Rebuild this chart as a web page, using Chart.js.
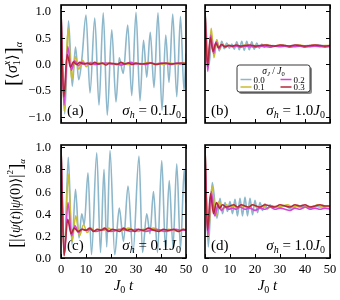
<!DOCTYPE html>
<html><head><meta charset="utf-8">
<script src="https://cdn.jsdelivr.net/npm/chart.js@4.4.1/dist/chart.umd.min.js"></script>
<style>
html,body{margin:0;padding:0;background:#fff;}
#wrap{position:relative;width:340px;height:300px;overflow:hidden;}
#wrap canvas{position:absolute;left:0;top:0;}
</style></head>
<body><div id="wrap">
<canvas id="ca" width="340" height="300"></canvas>
<canvas id="cb" width="340" height="300"></canvas>
<canvas id="cc" width="340" height="300"></canvas>
<canvas id="cd" width="340" height="300"></canvas>
</div>
<script>
// ---------- data ----------
const xTicks = [0,10,20,30,40,50];
const xTickLabels = ['0','10','20','30','40','50'];
const magTicks = [-1,-0.5,0,0.5,1];
const magTickLabels = ['\u22121.0','\u22120.5','0.0','0.5','1.0'];
const retTicks = [0,0.2,0.4,0.6,0.8,1.0];
const retTickLabels = ['0.0','0.2','0.4','0.6','0.8','1.0'];
const sigmaJ = ['0.0','0.1','0.2','0.3'];
const sigmaH = ['0.1','1.0'];

// panel (a): magnetization, sigma_h = 0.1
const tA0 = [0,1.5,3.0,4.5,5.8,7.1,8.4,10.0,11.6,13.5,15.2,16.9,18.5,20.3,22.0,23.3,24.9,26.7,28.3,30.0,31.6,33.0,34.3,35.7,37.2,38.8,40.4,41.9,43.2,44.7,46.3,47.8,49.2,50];
const vA0 = [1.0,-0.95,0.82,-0.42,0.32,-0.30,0.12,0.93,-0.55,0.87,-0.78,0.97,-0.97,0.65,-0.72,0.12,-0.18,0.74,-0.60,0.98,-0.70,0.45,-0.25,0.60,-0.45,0.97,-0.88,0.55,-0.35,0.95,-0.62,0.90,-0.50,0.20];
const tA1 = [0,1.3,2.8,4.3,5.7,7.1,8.6,10.1,11.6,13,15,17,19,21,23,25,27,29,31,33,35,37,39,41,43,45,47,49,50];
const vA1 = [1.0,-0.90,0.68,-0.30,0.14,-0.10,0.07,-0.05,0.03,-0.01,0.02,0.0,0.02,-0.01,0.01,0.02,-0.01,0.02,0.0,0.01,0.03,0.0,0.01,-0.01,0.02,0.01,0.0,0.02,0.01];
const tA2 = [0,1.2,2.7,4.1,5.5,6.9,8.3,10,12,14,16,18,20,22,24,26,28,30,32,34,36,38,40,42,44,46,48,50];
const vA2 = [1.0,-0.78,0.33,-0.12,0.06,-0.03,0.03,0.0,0.02,-0.01,0.01,0.02,0.0,0.01,-0.02,0.01,0.03,0.0,0.01,-0.01,0.02,0.0,0.02,0.01,-0.01,0.02,0.0,0.01];
const tA3 = [0,1.1,2.5,3.8,5.0,6.3,7.5,9,10.5,12,13.5,15,16.5,18,19.5,21,22.5,24,25.5,27,28.5,30,32,34,36,38,40,42,44,46,48,50];
const vA3 = [1.0,-0.62,0.18,-0.06,0.04,-0.01,0.03,0.0,0.02,-0.01,0.03,0.0,0.02,-0.02,0.02,0.01,-0.01,0.03,0.0,0.02,-0.01,0.02,0.0,0.01,0.02,-0.01,0.01,0.02,0.0,0.01,0.02,0.01];

// panel (b): magnetization, sigma_h = 1.0
const tB0 = [0,1.6,2.7,3.7,4.7,5.7,6.7,7.7,8.7,9.7,10.7,11.7,12.7,13.7,14.7,15.7,16.7,17.7,18.7,19.7,20.7,21.7,22.7,23.7,24.7,25.7,27,29,31,33,35,37,39,41,43,45,47,49,50];
const vB0 = [1.0,-0.02,0.52,0.18,0.46,0.25,0.43,0.29,0.40,0.30,0.38,0.28,0.42,0.27,0.43,0.26,0.43,0.27,0.42,0.28,0.40,0.30,0.38,0.32,0.37,0.33,0.35,0.34,0.36,0.34,0.35,0.36,0.34,0.35,0.34,0.36,0.35,0.34,0.35];
const tB1 = [0,1.2,2.5,3.6,4.7,5.8,7.0,8.2,9.5,11,12.5,14,16,18,20,22,24,26,28,30,32,34,36,38,40,42,44,46,48,50];
const vB1 = [1.0,-0.06,0.68,0.12,0.46,0.27,0.39,0.31,0.36,0.33,0.35,0.34,0.36,0.34,0.35,0.34,0.36,0.35,0.34,0.36,0.35,0.34,0.35,0.36,0.34,0.35,0.36,0.34,0.35,0.35];
const tB2 = [0,1.1,2.3,3.4,4.5,5.6,6.8,8,9.5,11,12.5,14,16,18,20,22,24,26,28,30,32,34,36,38,40,42,44,46,48,50];
const vB2 = [1.0,-0.14,0.55,0.20,0.42,0.29,0.37,0.32,0.35,0.33,0.34,0.32,0.34,0.33,0.32,0.34,0.33,0.32,0.34,0.33,0.34,0.32,0.33,0.34,0.32,0.33,0.34,0.33,0.32,0.33];
const tB3 = [0,1.0,2.1,3.2,4.3,5.4,6.6,8,9.5,11,12.5,14,16,18,20,22,24,26,28,30,32,34,36,38,40,42,44,46,48,50];
const vB3 = [1.0,-0.04,0.50,0.24,0.40,0.31,0.37,0.33,0.35,0.34,0.36,0.34,0.35,0.36,0.34,0.35,0.36,0.35,0.34,0.36,0.35,0.34,0.36,0.35,0.34,0.35,0.36,0.35,0.34,0.35];

// panel (c): return probability, sigma_h = 0.1
const tC0 = [0,1.4,2.9,4.4,5.8,7.2,8.3,9.3,10.8,12.2,14.3,15.8,17.2,18.3,19.6,21.5,23.3,25.0,26.8,28.8,31.2,32.6,34.3,35.6,37.0,38.6,40.3,41.8,43.3,44.8,46.3,47.8,49.3,50];
const vC0 = [1.0,0.03,0.91,0.12,0.62,0.18,0.40,0.30,0.77,0.03,0.95,0.05,0.80,0.10,0.97,0.03,0.45,0.15,0.65,0.05,0.92,0.05,0.40,0.22,0.60,0.05,0.88,0.08,0.70,0.10,0.85,0.08,0.80,0.50];
const tC1 = [0,1.3,2.9,4.4,5.9,7.4,9.0,10.5,12,13.5,15,17,19,21,23,25,27,29,31,33,35,37,39,41,43,45,47,49,50];
const vC1 = [1.0,0.02,0.76,0.15,0.38,0.20,0.30,0.23,0.27,0.24,0.26,0.25,0.27,0.24,0.26,0.25,0.27,0.25,0.24,0.26,0.25,0.27,0.25,0.24,0.26,0.25,0.24,0.26,0.25];
const tC2 = [0,1.3,2.8,4.2,5.6,7.0,8.5,10,12,14,16,18,20,22,24,26,28,30,32,34,36,38,40,42,44,46,48,50];
const vC2 = [1.0,0.03,0.50,0.20,0.29,0.23,0.26,0.25,0.26,0.24,0.25,0.26,0.24,0.25,0.26,0.25,0.24,0.26,0.25,0.24,0.25,0.26,0.25,0.24,0.25,0.26,0.25,0.25];
const tC3 = [0,1.2,2.7,4.0,5.3,6.8,8.5,10,11.5,13,14.5,16,17.5,19,20.5,22,23.5,25,26.5,28,29.5,31,33,35,37,39,41,43,45,47,49,50];
const vC3 = [1.0,0.02,0.35,0.22,0.27,0.24,0.26,0.25,0.27,0.24,0.26,0.25,0.27,0.24,0.26,0.25,0.24,0.27,0.25,0.26,0.24,0.26,0.25,0.27,0.25,0.24,0.26,0.25,0.26,0.24,0.26,0.25];

// panel (d): return probability, sigma_h = 1.0
const tD0 = [0,1.3,2.9,4.8,6.0,7.0,8.0,9.0,10.0,11.0,12.0,13.0,14.0,15.0,16.0,17.0,18.0,19.0,20.0,21.0,22.0,23.0,24.0,25.0,26.0,27.0,28.5,30,32,34,36,38,40,42,44,46,48,50];
const vD0 = [1.0,0.10,0.68,0.36,0.54,0.40,0.50,0.42,0.51,0.40,0.53,0.38,0.54,0.38,0.55,0.38,0.54,0.39,0.52,0.41,0.50,0.43,0.49,0.44,0.48,0.45,0.47,0.46,0.47,0.45,0.47,0.46,0.47,0.45,0.47,0.46,0.47,0.46];
const tD1 = [0,1.2,2.8,4.3,5.6,7.0,8.5,10,11.5,13,15,17,19,21,23,25,27,29,31,33,35,37,39,41,43,45,47,49,50];
const vD1 = [1.0,0.18,0.65,0.38,0.51,0.44,0.48,0.46,0.47,0.45,0.47,0.46,0.48,0.46,0.47,0.45,0.47,0.46,0.47,0.48,0.46,0.47,0.45,0.47,0.46,0.48,0.46,0.47,0.46];
const tD2 = [0,1.1,2.5,3.9,5.2,6.5,8,9.5,11,12.5,14,16,18,20,22,24,26,28,30,32,34,36,38,40,42,44,46,48,50];
const vD2 = [1.0,0.20,0.60,0.38,0.48,0.43,0.46,0.44,0.45,0.44,0.46,0.44,0.45,0.43,0.45,0.44,0.46,0.44,0.45,0.44,0.43,0.45,0.44,0.46,0.44,0.45,0.44,0.45,0.44];
const tD3 = [0,1.0,2.2,3.4,4.6,5.8,7,8.5,10,11.5,13,14.5,16,17.5,19,20.5,22,24,26,28,30,32,34,36,38,40,42,44,46,48,50];
const vD3 = [1.0,0.25,0.58,0.40,0.50,0.45,0.48,0.46,0.47,0.48,0.46,0.48,0.47,0.46,0.48,0.47,0.46,0.48,0.47,0.46,0.48,0.47,0.46,0.48,0.47,0.48,0.46,0.47,0.48,0.47,0.47];

// ---------- style ----------
const COLORS = ['#8db7ca','#c8be32','#d246d2','#b4283c'];
const SERIF = "'Liberation Serif','DejaVu Serif',serif";
function fnt(size, italic){ return (italic ? 'italic ' : '') + size + 'px ' + SERIF; }

function drawRich(ctx, segs, x, y, align){
  let w = 0;
  segs.forEach(s => { ctx.font = s.f; s.w = ctx.measureText(s.t).width; if (!s.noAdv) w += s.w; });
  let cx = align === 'right' ? x - w : (align === 'center' ? x - w / 2 : x);
  segs.forEach(s => { ctx.font = s.f; ctx.fillText(s.t, cx, y + (s.dy || 0)); if (!s.noAdv) cx += s.w; });
}

const M = 15, S = 10;
function sigmaHSegs(val){
  return [
    {t:'\u03c3', f:fnt(M,true)},
    {t:'h', f:fnt(S,true), dy:3},
    {t:' = ' + val, f:fnt(M)},
    {t:'J', f:fnt(M,true)},
    {t:'0', f:fnt(S), dy:3}
  ];
}
const magLabel = [
  {t:'[', f:fnt(21), dy:2},
  {t:'\u27e8', f:fnt(15)},
  {t:'\u03c3', f:fnt(16,true)},
  {t:'x', f:fnt(10,true), dy:-7, noAdv:true},
  {t:'1', f:fnt(10), dy:3},
  {t:'\u27e9', f:fnt(15)},
  {t:']', f:fnt(21), dy:2},
  {t:'\u03b1', f:fnt(10,true), dy:5}
];
const retLabel = [
  {t:'[', f:fnt(19), dy:2},
  {t:'|', f:fnt(16), dy:1},
  {t:'\u27e8', f:fnt(14)},
  {t:'\u03c8', f:fnt(14,true)},
  {t:'(', f:fnt(14)},
  {t:'t', f:fnt(14,true)},
  {t:')|', f:fnt(14)},
  {t:'\u03c8', f:fnt(14,true)},
  {t:'(0)', f:fnt(14)},
  {t:'\u27e9', f:fnt(14)},
  {t:'|', f:fnt(16), dy:1},
  {t:'2', f:fnt(9), dy:-7},
  {t:']', f:fnt(19), dy:2},
  {t:'\u03b1', f:fnt(9,true), dy:5}
];
const xLabel = [
  {t:'J', f:fnt(15,true)},
  {t:'0', f:fnt(10), dy:3},
  {t:' t', f:fnt(15,true)}
];

const framePlugin = {
  id: 'frame',
  afterDatasetsDraw(chart, args, o){
    const ctx = chart.ctx, a = chart.chartArea, xs = chart.scales.x, ys = chart.scales.y;
    ctx.save();
    ctx.fillStyle = '#000'; ctx.strokeStyle = '#000';
    ctx.lineWidth = 1;
    ctx.beginPath();
    xTicks.forEach(v => {
      const p = Math.round(xs.getPixelForValue(v)) + 0.5;
      ctx.moveTo(p, a.bottom); ctx.lineTo(p, a.bottom - 4);
      ctx.moveTo(p, a.top); ctx.lineTo(p, a.top + 4);
    });
    o.yTicks.forEach(v => {
      const p = Math.round(ys.getPixelForValue(v)) + 0.5;
      ctx.moveTo(a.left, p); ctx.lineTo(a.left + 4, p);
      ctx.moveTo(a.right, p); ctx.lineTo(a.right - 4, p);
    });
    ctx.stroke();
    ctx.lineWidth = 1.6;
    ctx.strokeRect(a.left, a.top, a.right - a.left, a.bottom - a.top);

    ctx.textBaseline = 'alphabetic';
    if (o.showY){
      ctx.font = fnt(12.5); ctx.textAlign = 'right';
      o.yTicks.forEach((v, i) => ctx.fillText(o.yLabels[i], a.left - 10, ys.getPixelForValue(v) + 4));
    }
    if (o.showX){
      ctx.font = fnt(12.5); ctx.textAlign = 'center';
      xTicks.forEach((v, i) => ctx.fillText(xTickLabels[i], xs.getPixelForValue(v), a.bottom + 15));
      ctx.textAlign = 'left';
      drawRich(ctx, xLabel, (a.left + a.right) / 2, 290, 'center');
    }
    ctx.textAlign = 'left';
    ctx.font = fnt(M);
    ctx.fillText(o.tag, a.left + 6, a.bottom - 8);
    drawRich(ctx, sigmaHSegs(o.sh), a.right - 5, a.bottom - 8, 'right');

    if (o.ylabel){
      ctx.save();
      ctx.translate(o.ylabel.x, (a.top + a.bottom) / 2 + o.ylabel.dy);
      ctx.rotate(-Math.PI / 2);
      drawRich(ctx, o.ylabel.segs, 0, 0, 'center');
      ctx.restore();
    }

    if (o.legend){
      const L = o.legend;
      ctx.fillStyle = 'rgba(0,0,0,0.45)';
      ctx.beginPath(); ctx.roundRect(L.x + 2, L.y + 2, L.w, L.h, 2.5); ctx.fill();
      ctx.fillStyle = '#fff'; ctx.strokeStyle = '#222'; ctx.lineWidth = 0.9;
      ctx.beginPath(); ctx.roundRect(L.x, L.y, L.w, L.h, 2.5); ctx.fill(); ctx.stroke();
      ctx.fillStyle = '#000';
      drawRich(ctx, [
        {t:'\u03c3', f:fnt(9.5,true)}, {t:'J', f:fnt(6.5,true), dy:2},
        {t:' / ', f:fnt(9.5)}, {t:'J', f:fnt(9.5,true)}, {t:'0', f:fnt(6.5), dy:2}
      ], L.x + L.w / 2, L.y + 9, 'center');
      chart.data.datasets.forEach((ds, i) => {
        const col = Math.floor(i / 2), row = i % 2;
        const hx = L.x + 3.5 + col * 40, hy = L.y + 14.5 + row * 7.5;
        ctx.strokeStyle = ds.borderColor; ctx.lineWidth = 1.5;
        ctx.beginPath(); ctx.moveTo(hx, hy); ctx.lineTo(hx + 11, hy); ctx.stroke();
        ctx.fillStyle = '#000'; ctx.font = fnt(9); ctx.textAlign = 'left';
        ctx.fillText(ds.label, hx + 13, hy + 3);
      });
    }
    ctx.restore();
  }
};

function makeChart(id, box, yr, series, frame){
  const pairs = series.map(s => s[0].slice(0, Math.min(s[0].length, s[1].length)).map((t, k) => ({x: t, y: s[1][k]})));
  return new Chart(document.getElementById(id), {
    type: 'line',
    data: { datasets: pairs.map((d, i) => ({
      label: sigmaJ[i], data: d, borderColor: COLORS[i], borderWidth: 1.6,
      pointRadius: 0, cubicInterpolationMode: 'monotone', fill: false, order: 3 - i
    }))},
    options: {
      responsive: false, animation: false, devicePixelRatio: 1,
      layout: { padding: { left: box[0], top: box[1], right: 340 - box[2], bottom: 300 - box[3] } },
      scales: {
        x: { type: 'linear', min: 0, max: 50, display: false },
        y: { type: 'linear', min: yr[0], max: yr[1], display: false }
      },
      plugins: { legend: { display: false }, tooltip: { enabled: false }, frame: frame }
    },
    plugins: [framePlugin]
  });
}

makeChart('ca', [61,5,186,123], [-1.12,1.12], [[tA0,vA0],[tA1,vA1],[tA2,vA2],[tA3,vA3]],
  { yTicks: magTicks, yLabels: magTickLabels, showY: true, showX: false, tag: '(a)', sh: sigmaH[0],
    ylabel: { segs: magLabel, x: 17, dy: 0 } });
makeChart('cb', [205,5,330,123], [-1.12,1.12], [[tB0,vB0],[tB1,vB1],[tB2,vB2],[tB3,vB3]],
  { yTicks: magTicks, yLabels: magTickLabels, showY: false, showX: false, tag: '(b)', sh: sigmaH[1],
    legend: { x: 237, y: 65, w: 73, h: 27 } });
makeChart('cc', [61,145,186,258], [0,1.02], [[tC0,vC0],[tC1,vC1],[tC2,vC2],[tC3,vC3]],
  { yTicks: retTicks, yLabels: retTickLabels, showY: true, showX: true, tag: '(c)', sh: sigmaH[0],
    ylabel: { segs: retLabel, x: 20, dy: 2 } });
makeChart('cd', [205,145,330,258], [0,1.02], [[tD0,vD0],[tD1,vD1],[tD2,vD2],[tD3,vD3]],
  { yTicks: retTicks, yLabels: retTickLabels, showY: false, showX: true, tag: '(d)', sh: sigmaH[1] });
</script>
</body></html>
